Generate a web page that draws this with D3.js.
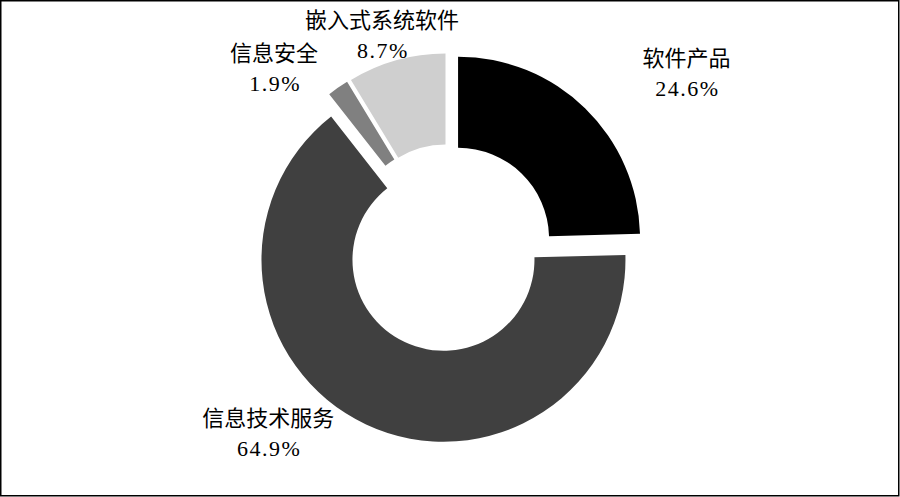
<!DOCTYPE html>
<html>
<head>
<meta charset="utf-8">
<script src="https://cdn.jsdelivr.net/npm/d3@7"></script>
<style>
  body { margin: 0; background: #fff; }
  svg text { font-family: "Liberation Serif", "Noto Sans CJK SC", serif; font-size: 22px; fill: #000; }
  svg .pct { letter-spacing: 1.5px; }
</style>
</head>
<body>
<svg id="chart"></svg>
<script>
// data
var categories = ["软件产品", "信息技术服务", "信息安全", "嵌入式系统软件"];
var values = [24.6, 64.9, 1.9, 8.7];
var colors = ["#000000", "#404040", "#808080", "#cfcfcf"];
// label nudges from the label-arc centroid (layout only)
var labelNudge = [[77, -10], [-83, -23], [-44, 9], [-5, 8]];

var width = 900, height = 497;
var cx = 449, cy = 248;
var outerR = 182, innerR = 91, explode = 13, labelR = 230;

var svg = d3.select("#chart")
    .attr("width", width)
    .attr("height", height);

svg.append("rect")
    .attr("x", 0.75).attr("y", 0.75)
    .attr("width", width - 2).attr("height", height - 2)
    .attr("fill", "#fff")
    .attr("stroke", "#000")
    .attr("stroke-width", 1.5);

var table = categories.map(function(c, i) { return { name: c, value: values[i], color: colors[i], nudge: labelNudge[i] }; });

var pie = d3.pie()
    .sort(null)
    .value(d => d.value);

var arc = d3.arc().innerRadius(innerR).outerRadius(outerR);
var labelArc = d3.arc().innerRadius(labelR).outerRadius(labelR);

var arcs = pie(table);

var g = svg.append("g").attr("transform", "translate(" + cx + "," + cy + ")");

// slices, each pulled out along its bisector
g.selectAll(".slice")
    .data(arcs)
    .enter()
    .append("path")
    .attr("class", "slice")
    .attr("d", arc)
    .attr("fill", d => d.data.color)
    .attr("transform", function(d) {
        var a = (d.startAngle + d.endAngle) / 2;
        return "translate(" + (explode * Math.sin(a)) + "," + (-explode * Math.cos(a)) + ")";
    });

var labels = g.selectAll(".label")
    .data(arcs)
    .enter()
    .append("text")
    .attr("class", "label")
    .attr("text-anchor", "middle")
    .attr("transform", function(d) {
        var p = labelArc.centroid(d);
        return "translate(" + (p[0] + d.data.nudge[0]) + "," + (p[1] + d.data.nudge[1]) + ")";
    });

labels.append("tspan")
    .attr("x", 0)
    .attr("y", -7)
    .text(d => d.data.name);

labels.append("tspan")
    .attr("class", "pct")
    .attr("x", 1)
    .attr("y", 23)
    .text(d => d3.format(".1f")(d.data.value) + "%");
</script>
</body>
</html>
